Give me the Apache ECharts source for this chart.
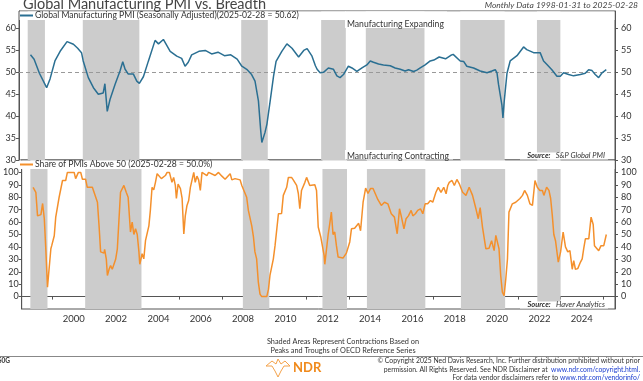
<!DOCTYPE html>
<html><head><meta charset="utf-8">
<script src="https://cdn.jsdelivr.net/npm/echarts@6/dist/echarts.min.js"></script>
<style>html,body{margin:0;padding:0;background:#fff}#c{width:643px;height:381px}</style>
</head><body><div id="c"></div>
<script>
// [decimal year, value]
const pmiSeries = [
[1998.08,54.0],[1998.25,53.0],[1998.5,49.8],[1998.84,46.5],[1999.0,48.5],[1999.23,52.6],[1999.5,55.0],[1999.8,57.0],
[2000.1,56.4],[2000.3,55.5],[2000.48,54.5],[2000.56,52.6],[2000.8,48.8],[2001.04,46.5],[2001.27,45.0],[2001.5,45.3],
[2001.58,47.4],[2001.69,41.1],[2001.82,43.8],[2002.06,47.3],[2002.29,50.3],[2002.42,52.4],[2002.53,50.7],[2002.68,49.6],
[2002.92,49.6],[2003.08,48.0],[2003.2,47.5],[2003.39,49.0],[2003.62,52.5],[2003.94,57.3],[2004.1,56.5],[2004.33,57.5],
[2004.65,54.8],[2004.96,53.7],[2005.19,53.2],[2005.35,51.4],[2005.5,52.3],[2005.66,54.0],[2006.0,54.8],[2006.3,55.0],
[2006.6,54.2],[2006.9,54.6],[2007.2,53.8],[2007.5,54.0],[2007.8,53.0],[2008.02,51.4],[2008.25,50.7],[2008.48,49.5],
[2008.64,48.0],[2008.8,43.5],[2008.91,36.6],[2008.96,34.0],[2009.11,36.3],[2009.2,38.2],[2009.35,43.4],[2009.51,49.1],
[2009.63,52.5],[2009.9,54.8],[2010.14,56.5],[2010.38,55.5],[2010.69,53.5],[2010.93,55.0],[2011.09,55.4],[2011.32,53.7],
[2011.48,51.5],[2011.56,50.7],[2011.7,49.9],[2011.86,50.0],[2012.09,51.0],[2012.33,50.7],[2012.49,49.2],[2012.64,48.8],
[2012.8,49.5],[2013.03,51.4],[2013.2,51.0],[2013.43,50.2],[2013.67,51.0],[2013.9,51.7],[2014.06,52.6],[2014.21,52.3],
[2014.45,51.9],[2014.68,51.7],[2015.0,51.5],[2015.23,51.0],[2015.47,50.7],[2015.7,50.3],[2015.86,50.6],[2016.1,50.2],
[2016.25,50.5],[2016.41,51.0],[2016.64,51.7],[2016.88,52.6],[2017.05,52.8],[2017.3,53.5],[2017.6,53.1],[2017.85,53.9],
[2017.96,54.1],[2018.29,52.6],[2018.45,52.5],[2018.6,51.4],[2018.92,51.0],[2019.23,50.3],[2019.55,49.9],[2019.78,50.3],
[2019.94,50.6],[2020.02,49.9],[2020.09,47.3],[2020.17,47.0],[2020.25,42.6],[2020.3,39.6],[2020.36,43.4],[2020.49,49.8],
[2020.64,52.6],[2020.96,53.8],[2021.27,55.8],[2021.42,55.2],[2021.74,54.5],[2022.05,54.5],[2022.21,52.6],[2022.37,51.8],
[2022.6,50.6],[2022.84,49.1],[2023.0,49.1],[2023.15,49.9],[2023.39,49.5],[2023.62,49.2],[2023.94,49.5],[2024.17,49.8],
[2024.33,50.6],[2024.49,50.4],[2024.64,49.5],[2024.8,48.8],[2024.96,49.9],[2025.16,50.62]
];
const breadthSeries = [
[1998.08,88],[1998.17,88.5],[1998.21,84],[1998.29,65],[1998.45,66],[1998.53,75],[1998.61,62.7],[1998.68,38.5],[1998.76,7.6],
[1998.92,38.5],[1998.96,41],[1999.08,49],[1999.15,64],[1999.23,64],[1999.31,80],[1999.39,80],[1999.47,93.5],[1999.62,93.5],
[1999.7,100],[2000.02,100],[2000.09,95],[2000.22,100],[2000.33,100],[2000.41,94.5],[2000.56,94.5],[2000.64,88],[2000.88,88],
[2000.96,84],[2001.12,76],[2001.2,56],[2001.27,36],[2001.43,35],[2001.46,38],[2001.54,30],[2001.59,17],[2001.67,22],
[2001.74,25],[2001.82,22],[2001.98,30],[2002.06,38.5],[2002.21,84],[2002.29,84],[2002.37,89.5],[2002.48,84],[2002.57,80],
[2002.68,52],[2002.76,60],[2002.84,50],[2002.92,54.6],[2003.0,50],[2003.08,36],[2003.12,26],[2003.23,34.5],[2003.31,30.4],
[2003.39,45],[2003.55,57],[2003.62,69.4],[2003.7,88],[2003.78,86],[2003.86,92],[2003.94,99],[2004.02,100],[2004.14,95],
[2004.33,97.5],[2004.41,100],[2004.52,100],[2004.64,92],[2004.72,96],[2004.8,89.5],[2004.85,79],[2004.93,90.5],[2005.04,87],
[2005.12,79],[2005.2,50.5],[2005.27,65],[2005.35,73.4],[2005.43,77.4],[2005.51,88],[2005.59,89.5],[2005.67,100],[2005.74,92],
[2005.82,97],[2005.9,94],[2005.98,85.5],[2006.06,100],[2006.29,97.5],[2006.37,100],[2006.68,97.5],[2006.84,100],[2007.0,97],
[2007.15,94.5],[2007.39,99],[2007.47,94],[2007.62,95],[2007.86,94],[2007.94,89.5],[2008.02,88],[2008.17,80],[2008.25,69.4],
[2008.41,57],[2008.49,48],[2008.56,36],[2008.64,30.4],[2008.72,11.6],[2008.8,2],[2008.88,0],[2009.12,0],[2009.2,6],
[2009.27,17],[2009.35,23.7],[2009.43,30.4],[2009.51,41],[2009.67,66.7],[2009.82,67],[2009.9,81.5],[2010.06,88],[2010.14,96],
[2010.29,96],[2010.37,94],[2010.53,89.5],[2010.61,83],[2010.68,70.7],[2010.76,85.5],[2010.92,92],[2011.0,96],[2011.15,89.5],
[2011.23,88],[2011.39,90],[2011.47,85.5],[2011.55,56],[2011.67,48],[2011.83,33],[2011.86,26],[2012.02,50],[2012.09,58],
[2012.17,68],[2012.25,50],[2012.33,52],[2012.41,41],[2012.49,31.8],[2012.72,31],[2012.88,35],[2013.04,44],[2013.12,54.6],
[2013.27,55],[2013.35,56],[2013.46,59],[2013.55,53],[2013.67,76],[2013.79,87.4],[2013.9,83],[2014.02,87],[2014.14,87],
[2014.21,86],[2014.37,78],[2014.53,73.4],[2014.68,76],[2014.84,74.7],[2015.0,66.7],[2015.15,64],[2015.28,50.6],[2015.39,70.7],
[2015.47,65],[2015.6,54.6],[2015.7,62.7],[2015.81,65],[2015.94,69.4],[2016.02,65],[2016.14,66.7],[2016.25,69.4],[2016.38,70.7],
[2016.49,66.7],[2016.6,74.7],[2016.72,74.7],[2016.85,77.4],[2016.96,76],[2017.11,84],[2017.22,88],[2017.35,84],[2017.48,88],
[2017.59,82.8],[2017.67,89.5],[2017.74,92],[2017.87,93.5],[2017.98,89.5],[2018.1,94.3],[2018.21,91],[2018.37,84],[2018.53,81.5],
[2018.68,88],[2018.84,81.5],[2019.0,70.7],[2019.11,62.7],[2019.2,71.7],[2019.31,56],[2019.47,38.5],[2019.62,39],[2019.74,45],
[2019.86,37],[2019.94,49.3],[2020.02,48],[2020.09,38.5],[2020.17,17],[2020.25,3.5],[2020.33,0.8],[2020.41,14],[2020.49,30.4],
[2020.56,68],[2020.72,74.7],[2020.88,76],[2020.96,75],[2021.08,79],[2021.2,81.5],[2021.3,85.5],[2021.43,81.5],[2021.55,74.7],
[2021.67,73.4],[2021.79,93.5],[2021.9,88],[2022.02,85.5],[2022.14,85.5],[2022.21,81.5],[2022.34,88],[2022.45,85.5],[2022.53,79],
[2022.61,65],[2022.68,50],[2022.76,45],[2022.84,46.5],[2022.89,27.8],[2023.0,36],[2023.12,52],[2023.23,40],[2023.34,36],
[2023.44,37],[2023.55,22],[2023.62,29],[2023.7,22],[2023.81,22.5],[2023.94,27.8],[2024.02,30.4],[2024.09,38.5],[2024.17,46.5],
[2024.33,46.5],[2024.44,64],[2024.54,58],[2024.6,41],[2024.69,42.5],[2024.8,37],[2024.91,41],[2025.04,41],[2025.16,50]
];
const shadeStarts = [1997.95, 2000.54, 2007.99, 2011.75, 2013.85, 2018.29, 2021.9];
const shadeEnds   = [1998.76, 2003.2, 2009.24, 2012.91, 2016.61, 2020.38, 2023.0];
const pmiTicks = [30,35,40,45,50,55,60];
const breadthTicks = [0,10,20,30,40,50,60,70,80,90,100];
const yearLabels = [2000,2002,2004,2006,2008,2010,2012,2014,2016,2018,2020,2022,2024];
const yearTicks = [1999,2001,2003,2005,2007,2009,2011,2013,2015,2017,2019,2021,2023,2025];

const FONT = 'Lato';
const BLUE = '#2a6f92', ORANGE = '#f4902c', SHADE = '#cccccc', AX = '#555';
const XMIN = 1997.54, XMAX = 2025.57;
const shadeData = shadeStarts.map((s, i) => [{xAxis: s}, {xAxis: shadeEnds[i]}]);

function yAx(grid, min, max, ticks, pos) {
  return {
    type: 'value', gridIndex: grid, position: pos, min: min, max: max,
    splitLine: {show: false},
    axisLine: {show: true, lineStyle: {color: AX, width: 1}},
    axisTick: {show: true, length: 3, inside: false, customValues: ticks, lineStyle: {color: AX}},
    axisLabel: {show: true, customValues: ticks, fontFamily: FONT, fontSize: 9, color: '#333', margin: pos === 'left' ? 3 : 6}
  };
}
const chart = echarts.init(document.getElementById('c'), null, {renderer: 'canvas'});
const txt = (x, y, text, o) => Object.assign({type: 'text', x: x, y: y, z: 200,
  style: Object.assign({text: text, fontFamily: FONT, fontSize: 9, fill: '#333', verticalAlign: 'middle'}, o || {})});
const box = (x, y, w, h) => ({type: 'rect', z: 150, shape: {x: x, y: y, width: w, height: h}, style: {fill: '#fff'}});

chart.setOption({
  animation: false,
  backgroundColor: '#fff',
  grid: [
    {left: 19, right: 28, top: 11, height: 149, show: true, borderColor: AX, borderWidth: 1, containLabel: false},
    {left: 19, right: 28, top: 160, height: 149, show: true, borderColor: AX, borderWidth: 1, containLabel: false}
  ],
  xAxis: [
    {type: 'value', gridIndex: 0, min: XMIN, max: XMAX, show: false},
    {type: 'value', gridIndex: 1, min: XMIN, max: XMAX, splitLine: {show: false},
     axisLine: {show: true, lineStyle: {color: AX}},
     axisTick: {show: true, length: 3, customValues: yearTicks, lineStyle: {color: AX}},
     axisLabel: {customValues: yearLabels, formatter: v => String(Math.round(v)), fontFamily: FONT, fontSize: 9.5, color: '#333', margin: 5}}
  ],
  yAxis: [
    yAx(0, 30, 64, pmiTicks, 'left'), yAx(0, 30, 64, pmiTicks, 'right'),
    yAx(1, -10, 110, breadthTicks, 'left'), yAx(1, -10, 110, breadthTicks, 'right')
  ],
  series: [
    {type: 'line', xAxisIndex: 0, yAxisIndex: 0, data: pmiSeries, showSymbol: false, z: 5,
     lineStyle: {color: BLUE, width: 1.5},
     markArea: {silent: true, itemStyle: {color: SHADE}, data: shadeData},
     markLine: {silent: true, symbol: 'none', label: {show: false},
       lineStyle: {color: '#999', type: [4, 3], width: 1}, data: [{yAxis: 50}]}},
    {type: 'line', xAxisIndex: 1, yAxisIndex: 2, data: breadthSeries, showSymbol: false, z: 5,
     lineStyle: {color: ORANGE, width: 1.5},
     markArea: {silent: true, itemStyle: {color: SHADE}, data: shadeData}}
  ],
  graphic: [
    box(19.5, 11.5, 595, 8.5),
    box(19.5, 160.5, 595, 8.5),
    box(345, 11.5, 102, 16.5),
    box(345, 150, 108, 9.5),
    box(520, 152.5, 88, 7),
    box(520, 301.5, 88, 7),
    {type: 'line', z: 200, shape: {x1: 20, y1: 15.5, x2: 33, y2: 15.5}, style: {stroke: BLUE, lineWidth: 2}},
    {type: 'line', z: 200, shape: {x1: 20, y1: 164.5, x2: 33, y2: 164.5}, style: {stroke: ORANGE, lineWidth: 2}},
    txt(35, 15.5, 'Global Manufacturing PMI (Seasonally Adjusted)(2025-02-28 = 50.62)', {fontSize: 8.6}),
    txt(35, 164.5, 'Share of PMIs Above 50 (2025-02-28 = 50.0%)', {fontSize: 8.6}),
    txt(347, 24, 'Manufacturing Expanding', {fontSize: 8.6}),
    txt(347, 156, 'Manufacturing Contracting', {fontSize: 8.6}),
    txt(605, 156, '{b|Source:}   S&P Global PMI', {align: 'right', fontSize: 7.5, fontStyle: 'italic', rich: {b: {fontWeight: 'bold', fontStyle: 'italic', fontSize: 7.5, fontFamily: FONT}}}),
    txt(605, 305, '{b|Source:}   Haver Analytics', {align: 'right', fontSize: 7.5, fontStyle: 'italic', rich: {b: {fontWeight: 'bold', fontStyle: 'italic', fontSize: 7.5, fontFamily: FONT}}}),
    txt(23, 4, 'Global Manufacturing PMI vs. Breadth', {fontSize: 14.5, fill: '#444'}),
    txt(638, 5, 'Monthly Data 1998-01-31 to 2025-02-28', {align: 'right', fontSize: 8.5, fontStyle: 'italic', fill: '#444'}),
    txt(343, 342, 'Shaded Areas Represent Contractions Based on', {align: 'center', fontSize: 7.3}),
    txt(343, 351, 'Peaks and Troughs of OECD Reference Series', {align: 'center', fontSize: 7.3}),
    {type: 'line', z: 200, shape: {x1: 0, y1: 356.5, x2: 643, y2: 356.5}, style: {stroke: '#888', lineWidth: 1}},
    txt(-2, 361, 'S0G', {fontSize: 6.5, fontWeight: 'bold'}),
    {type: 'polygon', z: 200, shape: {points: [[266,366],[272,361],[276,364],[278,359],[281,364],[285,361],[290,366],[284,366],[281,371],[278,377],[275,371],[272,366]]},
     style: {fill: 'none', stroke: '#f4a24a', lineWidth: 1}},
    txt(293, 368, 'NDR', {fontSize: 13, fontWeight: 'bold', fill: '#f08a1c'}),
    txt(640, 361, '© Copyright 2025 Ned Davis Research, Inc. Further distribution prohibited without prior', {align: 'right', fontSize: 6.8}),
    txt(640, 369.5, 'permission. All Rights Reserved. See NDR Disclaimer at  {l|www.ndr.com/copyright.html.}', {align: 'right', fontSize: 6.8, rich: {l: {fill: '#1a3ccf', fontSize: 6.8, fontFamily: FONT}}}),
    txt(640, 378, 'For data vendor disclaimers refer to {l|www.ndr.com/vendorinfo/}', {align: 'right', fontSize: 6.8, rich: {l: {fill: '#1a3ccf', fontSize: 6.8, fontFamily: FONT}}})
  ]
});
</script></body></html>
